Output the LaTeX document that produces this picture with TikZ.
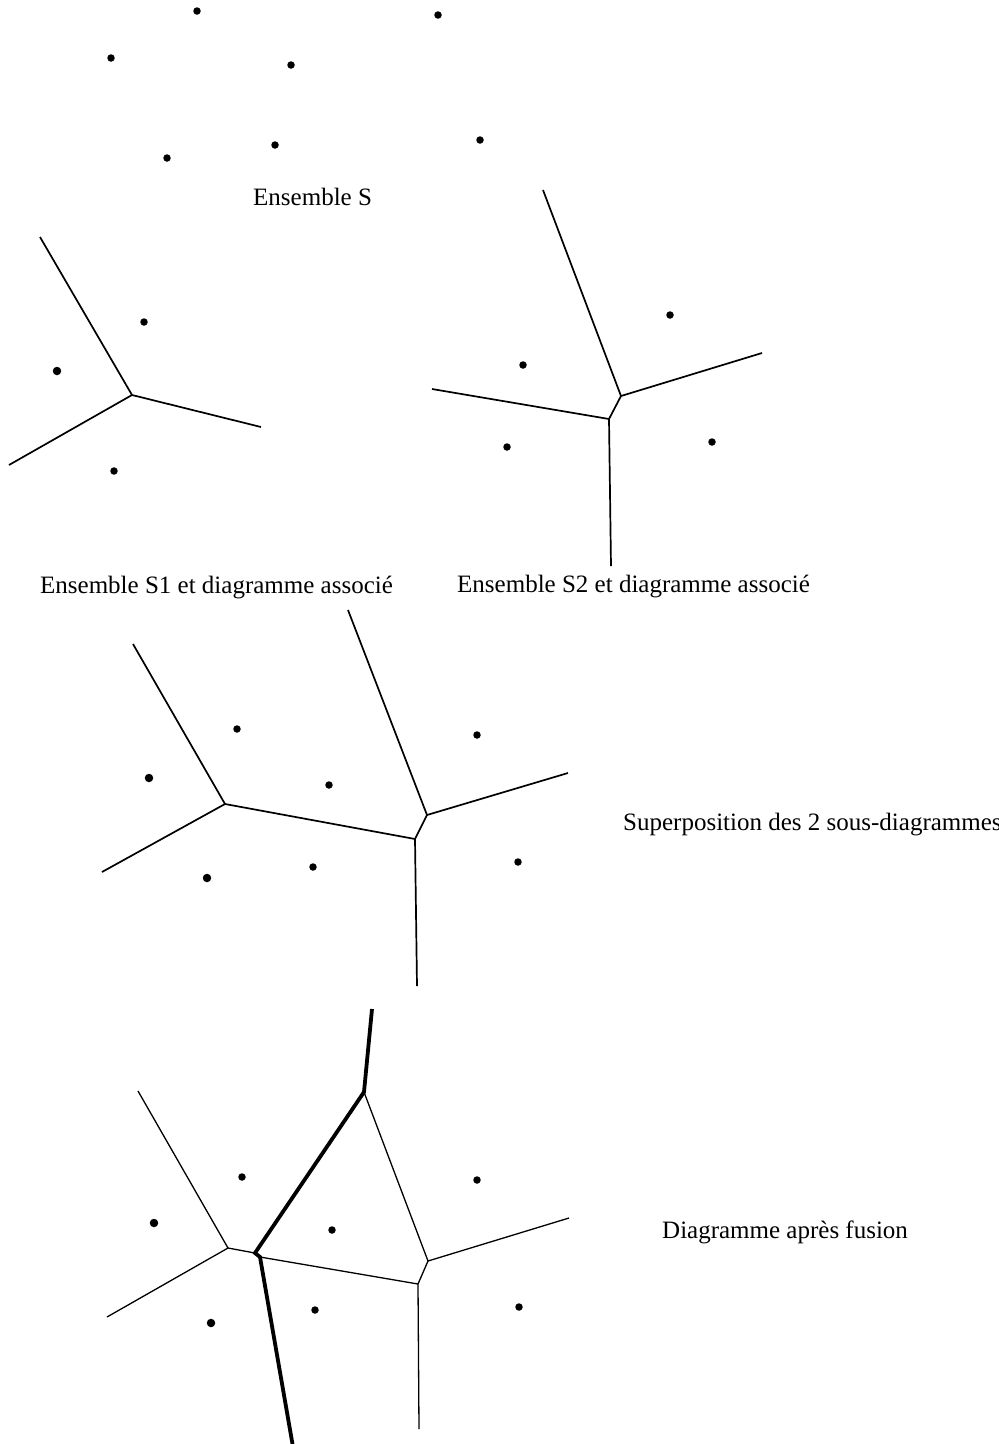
\documentclass[tikz,border=0pt]{standalone}
\usepackage{fontspec}
\setmainfont{Liberation Serif}
\usepackage{tikz}
\usetikzlibrary{positioning}

\begin{document}
\begin{tikzpicture}[
    % Define styles for the sites, edges and captions
    x=1pt, y=-1pt,
    site/.style={circle, fill, inner sep=0pt, minimum size=7.5pt},
    bigsite/.style={site, minimum size=8.5pt},
    edge/.style={line width=1.7pt},
    thinedge/.style={line width=1.3pt},
    fusion/.style={line width=3.8pt},
    caption/.style={anchor=base west, inner sep=0pt, font=\fontsize{25}{30}\selectfont}
]

    \useasboundingbox (0,0) rectangle (999,1444);

    % Ensemble S
    \node[site] (sa) at (197,11) {};
    \node[site] (sb) at (438,15) {};
    \node[site] (sc) at (111,58) {};
    \node[site] (sd) at (291,65) {};
    \node[site] (se) at (167,158) {};
    \node[site] (sf) at (275,145) {};
    \node[site] (sg) at (480,140) {};
    \node[caption] (capS) at (253,205) {Ensemble S};

    % Ensemble S1 and its diagram
    \node[site] (ua) at (144,322) {};
    \node[bigsite] (ub) at (57,371) {};
    \node[site] (uc) at (114,471) {};
    \coordinate (uv) at (132,395);
    \coordinate (uup) at (40,237);
    \coordinate (uright) at (261,427);
    \coordinate (uleft) at (9,465);
    \draw[edge] (uup) -- (uv) -- (uright);
    \draw[edge] (uv) -- (uleft);
    \node[caption] (capSa) at (40,593) {Ensemble S1 et diagramme associé};

    % Ensemble S2 and its diagram
    \node[site] (wa) at (670,315) {};
    \node[site] (wb) at (523,365) {};
    \node[site] (wc) at (507,447) {};
    \node[site] (wd) at (712,442) {};
    \coordinate (wv) at (621,396);
    \coordinate (wl) at (609,419);
    \coordinate (wup) at (543,190);
    \coordinate (wright) at (762,353);
    \coordinate (wleft) at (432,389);
    \coordinate (wdown) at (611,566);
    \draw[edge] (wup) -- (wv) -- (wright);
    \draw[edge] (wv) -- (wl) -- (wdown);
    \draw[edge] (wl) -- (wleft);
    \node[caption] (capSb) at (457,592) {Ensemble S2 et diagramme associé};

    % Superposition
    \node[site] (pa) at (237,729) {};
    \node[bigsite] (pb) at (149,778) {};
    \node[site] (pc) at (329,785) {};
    \node[site] (pd) at (477,735) {};
    \node[bigsite] (pe) at (207,878) {};
    \node[site] (pf) at (313,867) {};
    \node[site] (pg) at (518,862) {};
    \coordinate (pv) at (225,804);
    \coordinate (pw) at (427,815);
    \coordinate (pl) at (415,839);
    \coordinate (pup) at (133,644);
    \coordinate (pleft) at (102,872);
    \coordinate (pwup) at (348,610);
    \coordinate (pright) at (568,773);
    \coordinate (pdown) at (417,986);
    \draw[edge] (pup) -- (pv) -- (pleft);
    \draw[edge] (pv) -- (pl) -- (pdown);
    \draw[edge] (pwup) -- (pw) -- (pright);
    \draw[edge] (pw) -- (pl);
    \node[caption] (capP) at (623,830) {Superposition des 2 sous-diagrammes};

    % Diagram after fusion
    \node[site] (fa) at (242,1177) {};
    \node[bigsite] (fb) at (154,1223) {};
    \node[site] (fc) at (332,1230) {};
    \node[site] (fd) at (477,1180) {};
    \node[bigsite] (fe) at (211,1323) {};
    \node[site] (ff) at (315,1310) {};
    \node[site] (fg) at (519,1307) {};
    \coordinate (fl) at (228,1248);
    \coordinate (fj) at (255,1253);
    \coordinate (fk) at (260,1257);
    \coordinate (ft) at (364,1092);
    \coordinate (fr) at (428,1261);
    \coordinate (fq) at (418,1284);
    \coordinate (fup) at (138,1091);
    \coordinate (fleft) at (107,1317);
    \coordinate (fright) at (569,1218);
    \coordinate (fdown) at (419,1429);
    \coordinate (ftop) at (372,1009);
    \coordinate (fbottom) at (292.5,1444);
    \draw[thinedge] (fup) -- (fl) -- (fleft);
    \draw[thinedge] (fl) -- (fj);
    \draw[thinedge] (fk) -- (fq) -- (fdown);
    \draw[thinedge] (ft) -- (fr) -- (fright);
    \draw[thinedge] (fr) -- (fq);
    \draw[fusion] (ftop) -- (ft) -- (fj) -- (fk) -- (fbottom);
    \node[caption] (capF) at (662,1238) {Diagramme après fusion};
\end{tikzpicture}
\end{document}
